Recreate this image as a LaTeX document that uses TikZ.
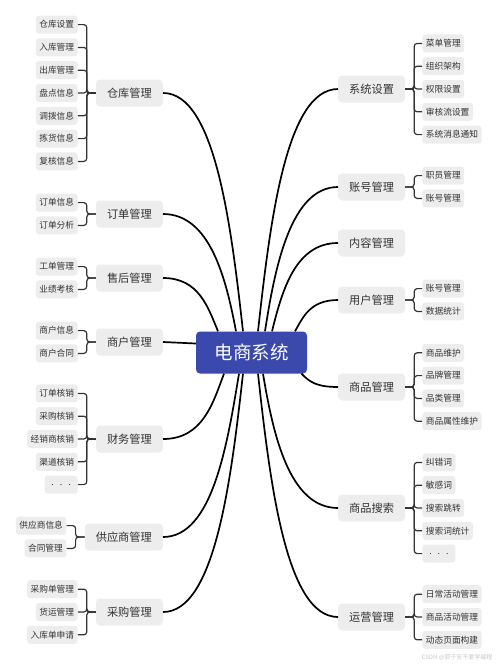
\documentclass[tikz,border=0pt]{standalone}
\usepackage{fontspec}
\newfontfamily\cjk{Noto Sans CJK SC}
\usetikzlibrary{positioning}
\definecolor{rootblue}{RGB}{58,73,171}
\definecolor{boxgray}{RGB}{237,237,237}
\definecolor{txtgray}{RGB}{51,51,51}

\begin{document}
\begin{tikzpicture}[x=1pt,y=-1pt,
	root/.style={rounded corners=4pt,fill=rootblue,text=white,font=\cjk\fontsize{18.5}{20}\selectfont,
		minimum width=111pt,minimum height=42pt,inner sep=0pt},
	topic/.style={rounded corners=4pt,fill=boxgray,text=txtgray,font=\cjk\fontsize{11.2}{13}\selectfont,
		minimum height=27pt,inner xsep=11pt,inner ysep=0pt},
	leaf/.style={rounded corners=3pt,fill=boxgray,text=txtgray,font=\cjk\fontsize{8.7}{10}\selectfont,
		minimum height=18pt,minimum width=33pt,inner xsep=3.5pt,inner ysep=0pt},
	branch/.style={line width=1.7pt,black},
	bracket/.style={line width=1.2pt,txtgray,rounded corners=3pt}]
	\useasboundingbox (0,0) rectangle (500,665);

	\node[root] (root) at (251.5,352.5) {电商系统};

	% left side
	\node[topic,anchor=east] (ck) at (163,93) {仓库管理};
	\node[topic,anchor=east] (dd) at (163,214) {订单管理};
	\node[topic,anchor=east] (shou) at (163,278) {售后管理};
	\node[topic,anchor=east] (sh) at (163,342) {商户管理};
	\node[topic,anchor=east] (cw) at (163,439) {财务管理};
	\node[topic,anchor=east] (gys) at (163,537) {供应商管理};
	\node[topic,anchor=east] (cg) at (163,612) {采购管理};

	\foreach \t [count=\i] in {仓库设置,入库管理,出库管理,盘点信息,调拨信息,拣货信息,复核信息}{
		\node[leaf,anchor=east] (ck\i) at ([xshift=-18pt,yshift={(4-\i)*22.8pt}]ck.west) {\t};
		\draw[bracket] (ck.west) -- ++(-9pt,0) |- (ck\i.east);
	}
	\foreach \t [count=\i] in {订单信息,订单分析}{
		\node[leaf,anchor=east] (dd\i) at ([xshift=-18pt,yshift={(1.5-\i)*22.8pt}]dd.west) {\t};
		\draw[bracket] (dd.west) -- ++(-9pt,0) |- (dd\i.east);
	}
	\foreach \t [count=\i] in {工单管理,业绩考核}{
		\node[leaf,anchor=east] (shou\i) at ([xshift=-18pt,yshift={(1.5-\i)*22.8pt}]shou.west) {\t};
		\draw[bracket] (shou.west) -- ++(-9pt,0) |- (shou\i.east);
	}
	\foreach \t [count=\i] in {商户信息,商户合同}{
		\node[leaf,anchor=east] (sh\i) at ([xshift=-18pt,yshift={(1.5-\i)*22.8pt}]sh.west) {\t};
		\draw[bracket] (sh.west) -- ++(-9pt,0) |- (sh\i.east);
	}
	\foreach \t [count=\i] in {订单核销,采购核销,经销商核销,渠道核销,{.\hspace{6pt}.\hspace{6pt}.}}{
		\node[leaf,anchor=east] (cw\i) at ([xshift=-18pt,yshift={(3-\i)*22.8pt}]cw.west) {\t};
		\draw[bracket] (cw.west) -- ++(-9pt,0) |- (cw\i.east);
	}
	\foreach \t [count=\i] in {供应商信息,合同管理}{
		\node[leaf,anchor=east] (gys\i) at ([xshift=-18pt,yshift={(1.5-\i)*22.8pt}]gys.west) {\t};
		\draw[bracket] (gys.west) -- ++(-9pt,0) |- (gys\i.east);
	}
	\foreach \t [count=\i] in {采购单管理,货运管理,入库单申请}{
		\node[leaf,anchor=east] (cg\i) at ([xshift=-18pt,yshift={(2-\i)*22.8pt}]cg.west) {\t};
		\draw[bracket] (cg.west) -- ++(-9pt,0) |- (cg\i.east);
	}

	% right side
	\node[topic,anchor=west] (xt) at (338,89) {系统设置};
	\node[topic,anchor=west] (zh) at (338,187) {账号管理};
	\node[topic,anchor=west] (nr) at (338,243) {内容管理};
	\node[topic,anchor=west] (yh) at (338,300) {用户管理};
	\node[topic,anchor=west] (sp) at (338,387) {商品管理};
	\node[topic,anchor=west] (ss) at (338,508) {商品搜索};
	\node[topic,anchor=west] (yy) at (338,617) {运营管理};

	\foreach \t [count=\i] in {菜单管理,组织架构,权限设置,审核流设置,系统消息通知}{
		\node[leaf,anchor=west] (xt\i) at ([xshift=17pt,yshift={(3-\i)*22.8pt}]xt.east) {\t};
		\draw[bracket] (xt.east) -- ++(9pt,0) |- (xt\i.west);
	}
	\foreach \t [count=\i] in {职员管理,账号管理}{
		\node[leaf,anchor=west] (zh\i) at ([xshift=17pt,yshift={(1.5-\i)*22.8pt}]zh.east) {\t};
		\draw[bracket] (zh.east) -- ++(9pt,0) |- (zh\i.west);
	}
	\foreach \t [count=\i] in {账号管理,数据统计}{
		\node[leaf,anchor=west] (yh\i) at ([xshift=17pt,yshift={(1.5-\i)*22.8pt}]yh.east) {\t};
		\draw[bracket] (yh.east) -- ++(9pt,0) |- (yh\i.west);
	}
	\foreach \t [count=\i] in {商品维护,品牌管理,品类管理,商品属性维护}{
		\node[leaf,anchor=west] (sp\i) at ([xshift=17pt,yshift={(2.5-\i)*22.8pt}]sp.east) {\t};
		\draw[bracket] (sp.east) -- ++(9pt,0) |- (sp\i.west);
	}
	\foreach \t [count=\i] in {纠错词,敏感词,搜索跳转,搜索词统计,{.\hspace{6pt}.\hspace{6pt}.}}{
		\node[leaf,anchor=west] (ss\i) at ([xshift=17pt,yshift={(3-\i)*22.8pt}]ss.east) {\t};
		\draw[bracket] (ss.east) -- ++(9pt,0) |- (ss\i.west);
	}
	\foreach \t [count=\i] in {日常活动管理,商品活动管理,动态页面构建}{
		\node[leaf,anchor=west] (yy\i) at ([xshift=17pt,yshift={(2-\i)*22.8pt}]yy.east) {\t};
		\draw[bracket] (yy.east) -- ++(9pt,0) |- (yy\i.west);
	}

	% curves to the root
	\draw[branch] (ck.east) .. controls +(52,0) and +(-12,-107) .. ([xshift=-8.5pt]root.north);
	\draw[branch] (dd.east) .. controls +(47,0) and +(-10,-53) .. ([xshift=-15.5pt]root.north);
	\draw[branch] (shou.east) .. controls +(36,0) and +(-10,-24) .. ([xshift=-33.5pt]root.north);
	\draw[branch] (sh.east) .. controls +(16,0) and +(-16,0) .. ([yshift=9pt]root.west);
	\draw[branch] (cw.east) .. controls +(40,0) and +(-11,29) .. ([xshift=-27.5pt]root.south);
	\draw[branch] (gys.east) .. controls +(49,0) and +(-12,73) .. ([xshift=-12.5pt]root.south);
	\draw[branch] (cg.east) .. controls +(52,0) and +(-12,107) .. ([xshift=-8.5pt]root.south);
	\draw[branch] (xt.west) .. controls +(-52,0) and +(12,-109) .. ([xshift=6.5pt]root.north);
	\draw[branch] (zh.west) .. controls +(-47,0) and +(10,-65) .. ([xshift=13.5pt]root.north);
	\draw[branch] (nr.west) .. controls +(-43,0) and +(10,-40) .. ([xshift=20.5pt]root.north);
	\draw[branch] (yh.west) .. controls +(-28,0) and +(8,-14) .. ([xshift=43.5pt]root.north);
	\draw[branch] (sp.west) .. controls +(-22,0) and +(8,8) .. ([xshift=50pt]root.south);
	\draw[branch] (ss.west) .. controls +(-49,0) and +(10,60) .. ([xshift=11.5pt]root.south);
	\draw[branch] (yy.west) .. controls +(-52,0) and +(12,109) .. ([xshift=6.5pt]root.south);

	\node[anchor=east,text=black!22,font=\cjk\fontsize{6}{7}\selectfont] (csdn) at (496,657) {CSDN @郭子安不爱学编程};
\end{tikzpicture}
\end{document}
